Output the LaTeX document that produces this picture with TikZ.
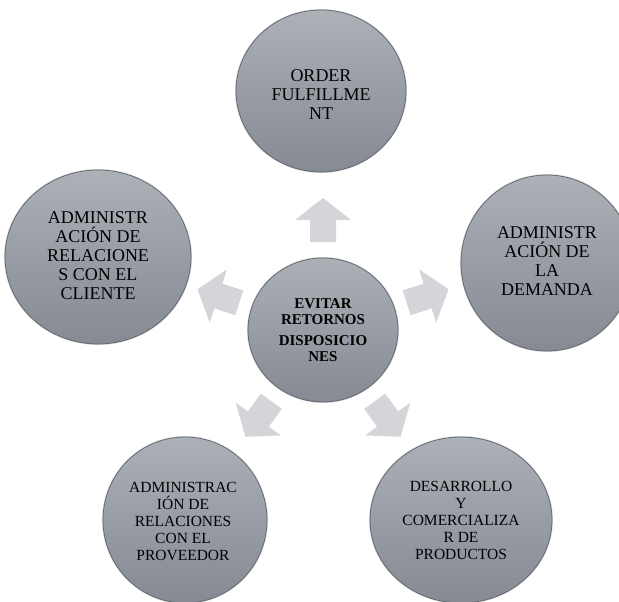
\documentclass[tikz,border=0pt]{standalone}
\usepackage{fontspec}
\setmainfont{Liberation Serif}
\usetikzlibrary{shapes.geometric}
\definecolor{bubbletop}{HTML}{ACB0B7}
\definecolor{bubblebot}{HTML}{858A93}
\definecolor{bubbleline}{HTML}{5E636B}
\definecolor{halo}{HTML}{D6D8DB}
\definecolor{arrowfill}{HTML}{D3D5D9}
\begin{document}
\begin{tikzpicture}[x=1pt,y=-1pt,
  bubble/.style={ellipse, draw=bubbleline, line width=0.7pt,
    top color=bubbletop, bottom color=bubblebot, inner sep=0pt,
    preaction={draw=halo, line width=2pt}},
  label/.style={align=center, text=black, inner sep=0pt},
  bigtext/.style={font=\fontsize{18}{19}\selectfont},
  smalltext/.style={font=\fontsize{15.5}{17}\selectfont},
  hubtext/.style={font=\bfseries\fontsize{15}{15.8}\selectfont},
  blockarrow/.style={fill=arrowfill, draw=none}
]
\useasboundingbox (0,0) rectangle (619,602);
\clip (0,0) rectangle (619,602);

% hub
\node[bubble, minimum width=150pt, minimum height=144pt] (hub) at (323,330) {};
\node[label, hubtext] (hubtxt) at (hub.center)
  {EVITAR\\RETORNOS\\[5pt]DISPOSICIO\\NES};

% outer bubbles
\node[bubble, minimum width=170pt, minimum height=162pt] (order) at (321,91) {};
\node[label, bigtext] (ordertxt) at ([yshift=-4pt]order.center)
  {ORDER\\FULFILLME\\NT};

\node[bubble, minimum width=172pt, minimum height=176pt] (demand) at (547,263) {};
\node[label, bigtext] (demandtxt) at ([yshift=2pt]demand.center)
  {ADMINISTR\\ACIÓN DE\\LA\\DEMANDA};

\node[bubble, minimum width=186pt, minimum height=174pt] (client) at (98,257) {};
\node[label, bigtext] (clienttxt) at ([yshift=1pt]client.center)
  {ADMINISTR\\ACIÓN DE\\RELACIONE\\S CON EL\\CLIENTE};

\node[bubble, minimum width=164pt, minimum height=166pt] (supplier) at (185,520) {};
\node[label, smalltext] (suppliertxt) at ([xshift=-2pt,yshift=-1pt]supplier.center)
  {ADMINISTRAC\\IÓN DE\\RELACIONES\\CON EL\\PROVEEDOR};

\node[bubble, minimum width=182pt, minimum height=166pt] (product) at (461,520) {};
\node[label, smalltext] (producttxt) at (product.center)
  {DESARROLLO\\Y\\COMERCIALIZA\\R DE\\PRODUCTOS};

% block arrows radiating from the hub
\foreach \ang in {90,18,162,-54,-126}{
  \fill[blockarrow, shift={(hub.center)}, rotate=\ang]
    (88,-13) -- (110,-13) -- (110,-28) -- (132,0) -- (110,28) -- (110,13) -- (88,13) -- cycle;
}
\end{tikzpicture}
\end{document}
